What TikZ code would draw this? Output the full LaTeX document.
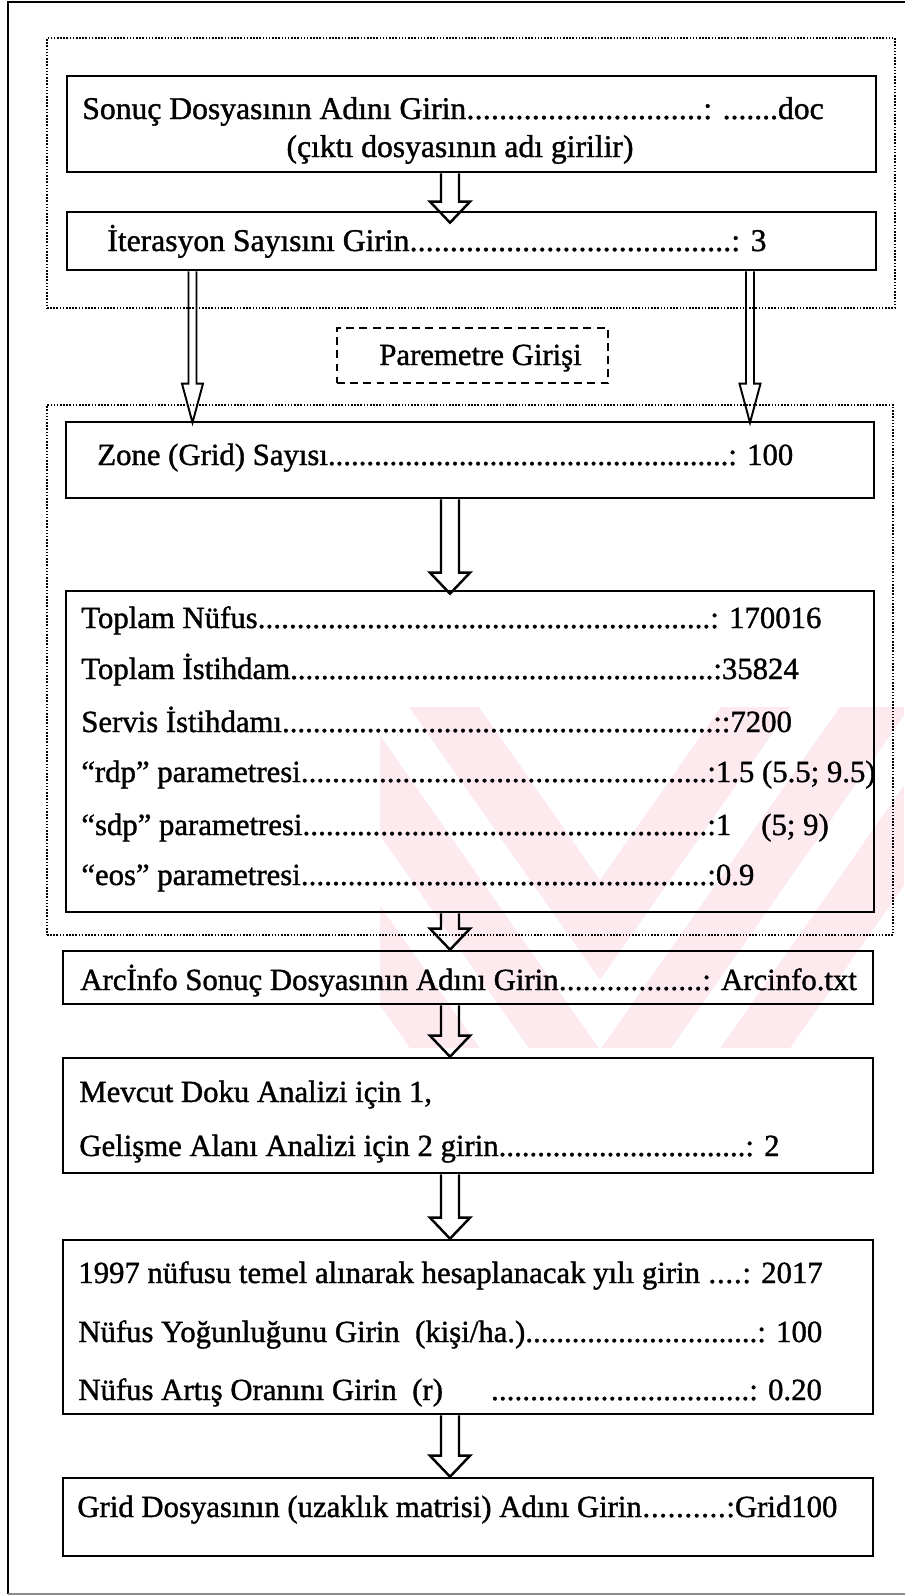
\documentclass[tikz,border=0pt]{standalone}
\usepackage{fontspec}
\setmainfont{Liberation Serif}[FakeBold=1.2]
\usetikzlibrary{calc,fit}
\newlength\pxu
\setlength\pxu{0.02cm}
\newcommand\lead{\xleaders\hbox{.}\hfill}
\newcommand\row[2]{\makebox[#1\pxu][l]{#2\lead}}
\definecolor{wmpink}{RGB}{253,234,238}
\tikzset{
  frame/.style={draw, line width=1.6pt, inner sep=0pt},
  box/.style={draw, line width=1.5pt, inner sep=0pt},
  dotbox/.style={draw, line width=1pt, dash pattern=on 0.9pt off 0.9pt, inner sep=0pt},
  dashbox/.style={draw, line width=1.1pt, dash pattern=on 4.5pt off 3pt, inner sep=0pt},
  txt/.style={anchor=base west, inner sep=0pt, font=\fontsize{17.5}{21}\selectfont},
  bigtxt/.style={txt, font=\fontsize{18}{22}\selectfont},
  % hollow block arrow: #1 half shaft, #2 half head, #3 head length
  blockarrow/.style n args={3}{line join=miter, to path={
    let \p1=(\tikztostart), \p2=(\tikztotarget) in
    (\x1-#1,\y1) -- (\x1-#1,\y2+#3) -- (\x1-#2,\y2+#3) -- (\x2,\y2)
    -- (\x1+#2,\y2+#3) -- (\x1+#1,\y2+#3) -- (\x1+#1,\y1)}},
  bigarrow/.style={draw, line width=1.4pt, blockarrow={0.18cm}{0.4cm}{0.42cm}},
  thinarrow/.style={draw, line width=1.1pt, blockarrow={0.08cm}{0.21cm}{0.78cm}},
  chevron/.style={fill=wmpink, draw=none},
}
\begin{document}
\begin{tikzpicture}[x=0.02cm,y=-0.02cm]
\useasboundingbox (0,0) rectangle (904,1596);
\fill[white] (0,0) rectangle (904,1596);

% faint background chevrons
\begin{scope}
  \clip (380,707) rectangle (904,1047);
  \foreach \ya in {880,1050,1220} {
    \fill[chevron] (200,\ya-572) -- (600,\ya) -- (1000,\ya-572)
      -- (1000,\ya-472) -- (600,\ya+100) -- (200,\ya-472) -- cycle;
  }
\end{scope}

% outer page frame
\draw[line width=1.6pt] (906,2) -- (8,2) -- (8,1594);
\draw[line width=1.4pt, black!45] (8,1594) -- (906,1594);

% group 1: file name and iteration count
\node[dotbox, fit={(47,38)(895,308)}] (g1) {};
\node[box, fit={(67,76)(876,172)}] (b1) {};
\node[box, fit={(67,212)(876,270)}] (b2) {};
\node[bigtxt] (t1) at (82,119) {\row{621}{Sonuç Dosyasının Adını Girin}: .......doc};
\node[bigtxt, anchor=base] (t2) at (460,157) {(çıktı dosyasının adı girilir)};
\node[bigtxt] (t3) at (107,251) {\row{624}{İterasyon Sayısını Girin}: 3};

% label between the groups
\node[dashbox, fit={(337,328)(608,383)}] (pg) {};
\node[txt] (t4) at (379,365) {Paremetre Girişi};

% group 2: parameters
\node[dotbox, fit={(47,405)(893,935)}] (g2) {};
\node[box, fit={(66,422)(874,498)}] (b3) {};
\node[txt] (t5) at (97,465) {\row{631}{Zone (Grid) Sayısı}: 100};
\node[box, fit={(66,591)(874,912)}] (b4) {};
\node[txt] (p1) at (81,628) {\row{629}{Toplam Nüfus}: 170016};
\node[txt] (p2) at (81,679) {\row{632}{Toplam İstihdam}:35824};
\node[txt] (p3) at (81,732) {\row{632}{Servis İstihdamı}::7200};
\node[txt] (p4) at (81,782) {\row{626}{“rdp” parametresi}:1.5 (5.5; 9.5)};
\node[txt] (p5) at (81,835) {\row{626}{“sdp” parametresi}:1\hspace{30\pxu}(5; 9)};
\node[txt] (p6) at (81,885) {\row{626}{“eos” parametresi}:0.9};

% remaining steps
\node[box, fit={(63,951)(873,1004)}] (b5) {};
\node[txt] (t6) at (80,990) {\row{622}{Arcİnfo Sonuç Dosyasının Adını Girin}: Arcinfo.txt};
\node[box, fit={(63,1058)(873,1173)}] (b6) {};
\node[txt] (t7) at (79,1102) {Mevcut Doku Analizi için 1,};
\node[txt] (t8) at (79,1156) {\row{666}{Gelişme Alanı Analizi için 2 girin}: 2};
\node[box, fit={(63,1240)(873,1414)}] (b7) {};
\node[txt] (t9) at (78,1283) {\row{664}{1997 nüfusu temel alınarak hesaplanacak yılı girin }: 2017};
\node[txt] (t10) at (78,1342) {\row{679}{Nüfus Yoğunluğunu Girin~~(kişi/ha.)}: 100};
\node[txt] (t11) at (78,1400) {\row{671}{Nüfus Artış Oranını Girin~~(r)\hspace{48\pxu}}: 0.20};
\node[box, fit={(63,1478)(873,1556)}] (b8) {};
\node[txt] (t12) at (77,1517) {\row{649}{Grid Dosyasının (uzaklık matrisi) Adını Girin}:Grid100};

% arrow columns
\coordinate (mx) at (450,0);
\coordinate (lx) at (192.5,0);
\coordinate (rx) at (750,0);

\draw[bigarrow] (b1.south -| mx) to ($(b2.north -| mx)+(0,12)$);
\draw[thinarrow] (b2.south -| lx) to ($(b3.north -| lx)+(0,2)$);
\draw[thinarrow] (b2.south -| rx) to ($(b3.north -| rx)+(0,2)$);
\draw[bigarrow] (b3.south -| mx) to ($(b4.north -| mx)+(0,4)$);
\draw[bigarrow] (b4.south -| mx) to (b5.north -| mx);
\draw[bigarrow] (b5.south -| mx) to (b6.north -| mx);
\draw[bigarrow] (b6.south -| mx) to (b7.north -| mx);
\draw[bigarrow] (b7.south -| mx) to (b8.north -| mx);
\end{tikzpicture}
\end{document}
